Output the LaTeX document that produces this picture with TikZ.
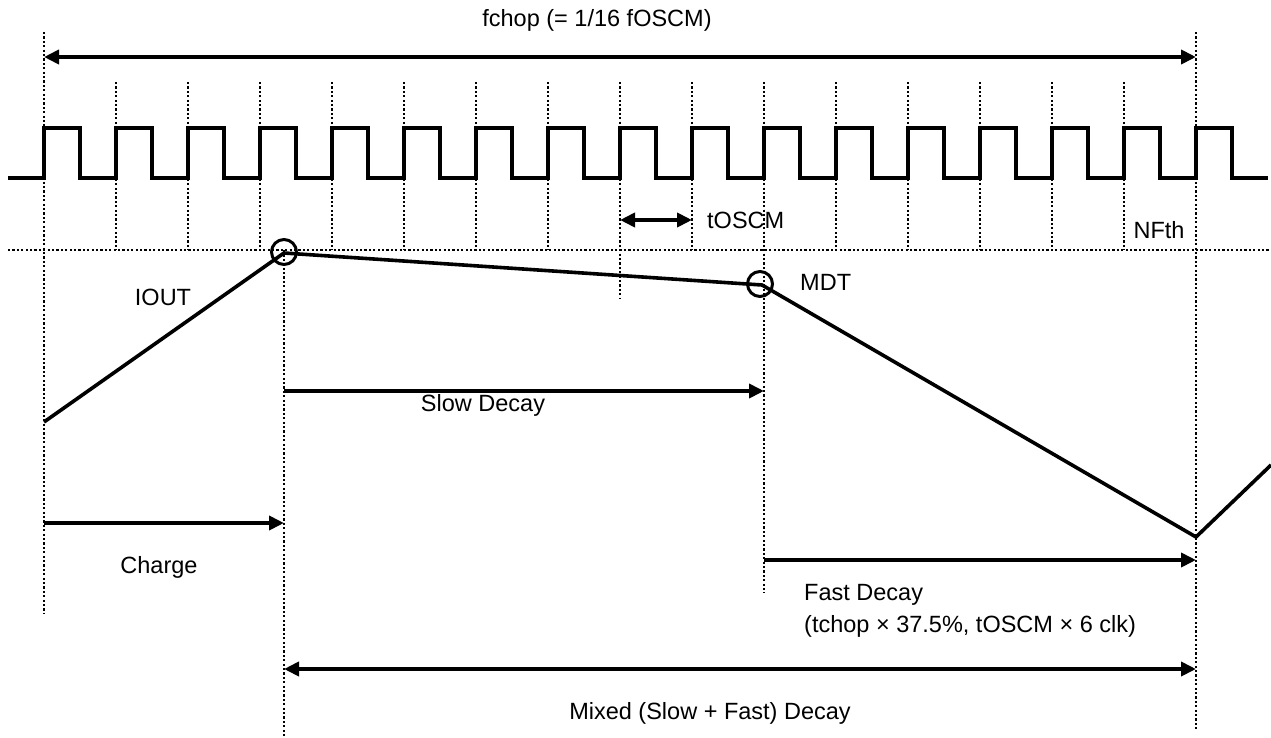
\documentclass[tikz,border=0pt]{standalone}
\usepackage{fontspec}
\setmainfont{Liberation Sans}
\usetikzlibrary{arrows.meta}
\begin{document}
\begin{tikzpicture}[x=1pt,y=-1pt,
  dotline/.style={line width=2.2pt,dash pattern=on 2.2pt off 2.2pt,black},
  wave/.style={line width=3.8pt,line join=miter},
  thick line/.style={line width=3.6pt},
  arr/.style={line width=3.8pt,-{Triangle[length=15pt,width=14pt]}},
  darr/.style={line width=3.8pt,{Triangle[length=15pt,width=14pt]}-{Triangle[length=15pt,width=14pt]}},
  lbl/.style={inner sep=0pt,font=\fontsize{23.5}{32}\selectfont},
  mark circle/.style={line width=3pt,draw,circle,minimum size=25pt,inner sep=0pt}
]
\useasboundingbox (0,0) rectangle (1271,738);
% coordinates
\coordinate (L0) at (44,32);
\coordinate (L1) at (44,613);
\coordinate (R0) at (1196,32);
\coordinate (R1) at (1196,730);
\coordinate (P) at (284,253);
\coordinate (Pb) at (284,738);
\coordinate (Pt) at (284,250);
\coordinate (M) at (762,285);
\coordinate (Mt) at (764,82);
\coordinate (Mb) at (764,593);
\coordinate (Q0) at (620,82);
\coordinate (Q1) at (620,298);
\coordinate (S) at (44,422);
\coordinate (V) at (1196,537);
\coordinate (E) at (1271,465);
\coordinate (H0) at (8,250);
\coordinate (H1) at (1271,250);
% dotted lines
\draw[dotline] (L0) -- (L1);
\draw[dotline] (R0) -- (R1);
\draw[dotline] (Pt) -- (Pb);
\draw[dotline] (Mt) -- (Mb);
\draw[dotline] (Q0) -- (Q1);
\draw[dotline] (H0) -- (H1);
\foreach \k in {1,...,15}{
  \pgfmathsetmacro\xx{44+72*\k}
  \draw[dotline] (\xx,82) -- (\xx,250);
}
% clock waveform
\draw[wave] (8,178) -- (44,178)
  \foreach \k in {0,...,16}{
    -- ({44+72*\k},128) -- ({80+72*\k},128) -- ({80+72*\k},178) -- ({116+72*\k},178)
  } ;
\fill[white] (1268,170) rectangle (1271,186);
% current
\draw[thick line,line join=round] (S) -- (P) -- (M) -- (V) -- (E);
\node[mark circle] (c1) at (284,252) {};
\node[mark circle] (c2) at (760,284) {};
% arrows
\draw[darr] (L0 |- 0,57) coordinate (A0) -- (R0 |- 0,57) coordinate (A1);
\draw[darr] (620,220) coordinate (T0) -- (692,220) coordinate (T1);
\draw[arr] (284,391) coordinate (SD0) -- (764,391) coordinate (SD1);
\draw[arr] (44,523) coordinate (C0) -- (284,523) coordinate (C1);
\draw[arr] (764,560) coordinate (F0) -- (1196,560) coordinate (F1);
\draw[darr] (284,669) coordinate (X0) -- (1196,669) coordinate (X1);
% labels
\node[lbl] (tfchop) at (597,20) {fchop (= 1/16 fOSCM)};
\node[lbl,anchor=west] (ttosc) at (707,220) {tOSCM};
\node[lbl] (tnf) at (1159,230) {NFth};
\node[lbl] (tiout) at (163,297) {IOUT};
\node[lbl,anchor=west] (tmdt) at (800,282) {MDT};
\node[lbl] (tslow) at (483,405) {Slow Decay};
\node[lbl] (tcharge) at (159,567) {Charge};
\node[lbl,anchor=west,align=left] (tfast) at (804,611) {Fast Decay\\(tchop × 37.5\%, tOSCM × 6 clk)};
\node[lbl] (tmix) at (710,713) {Mixed (Slow + Fast) Decay};
\end{tikzpicture}
\end{document}
